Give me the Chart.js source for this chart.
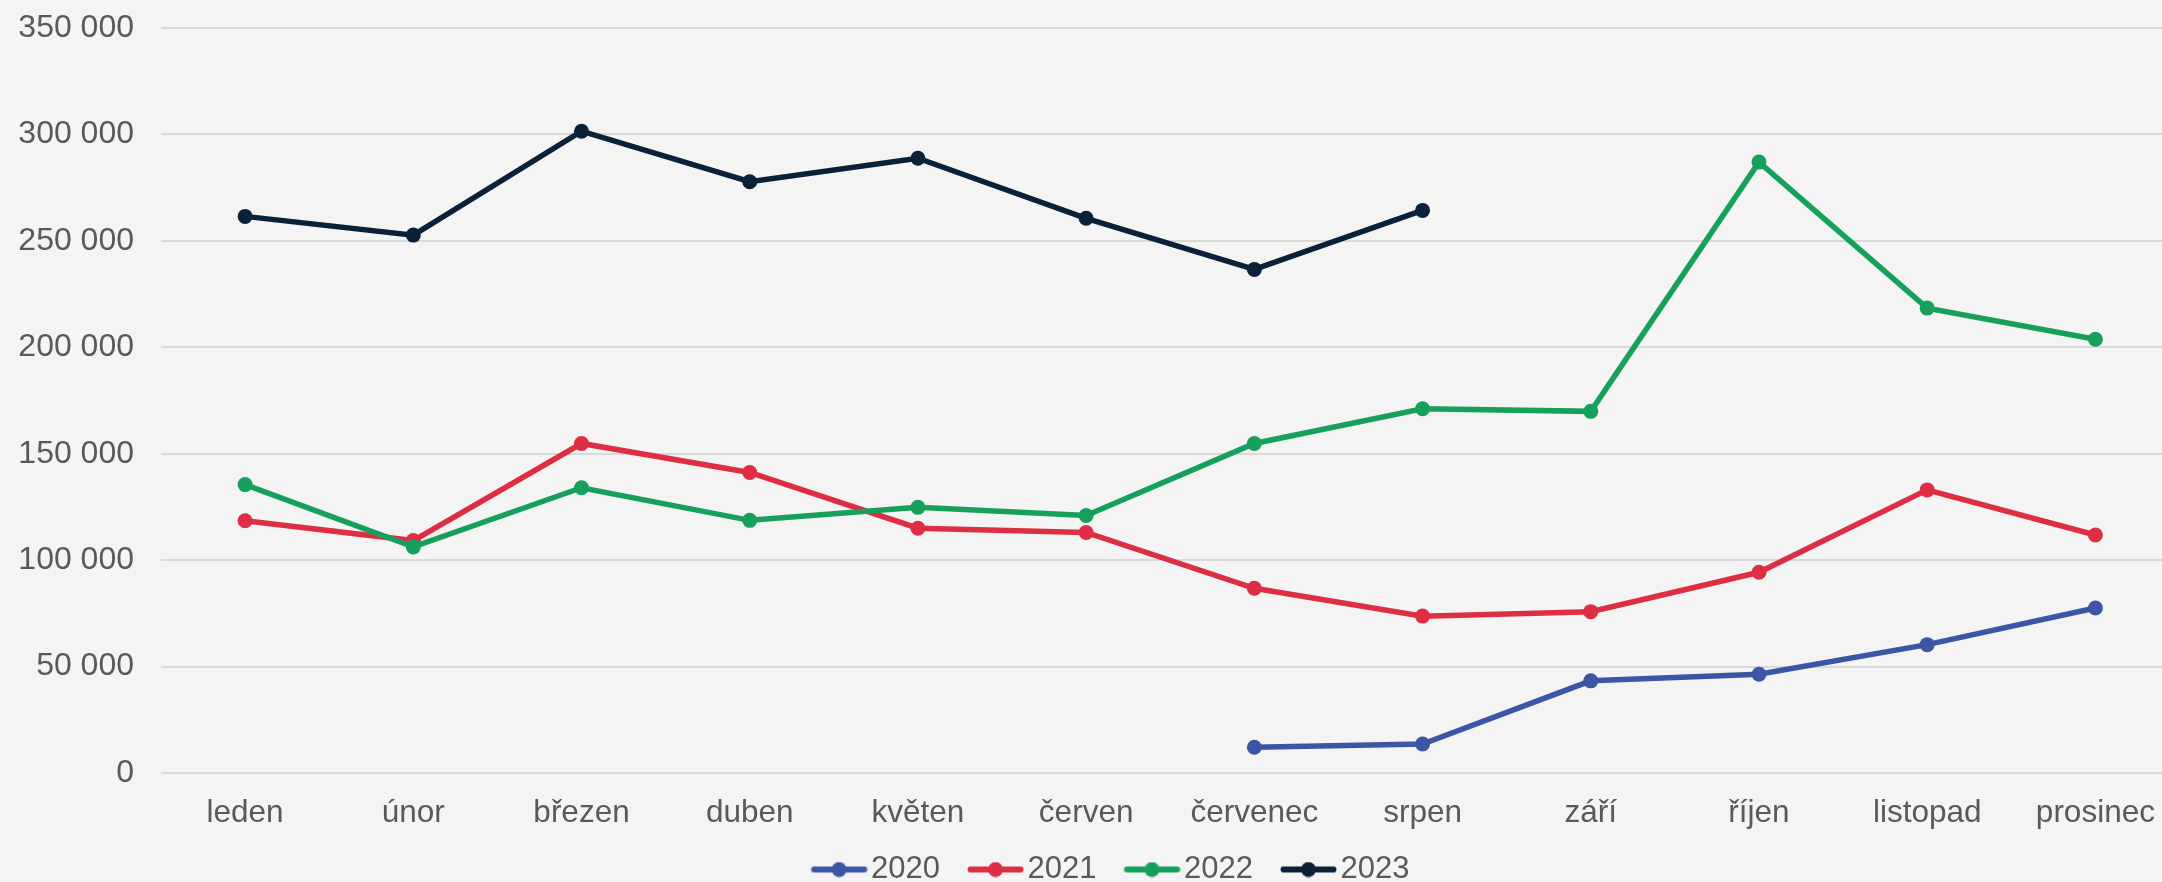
<!DOCTYPE html>
<html lang="cs">
<head>
<meta charset="utf-8">
<title>Měsíční vývoj 2020–2023</title>
<script src="https://cdn.jsdelivr.net/npm/chart.js@4.4.1/dist/chart.umd.min.js"></script>
<style>
  html, body { margin:0; padding:0; background:#f4f4f4; overflow:hidden; }
  #wrap { position:relative; width:2187px; height:895px; }
</style>
</head>
<body>
<div id="wrap"><canvas id="chart"></canvas></div>
<script>
const months = ["leden","únor","březen","duben","květen","červen","červenec","srpen","září","říjen","listopad","prosinec"];
const years = ["2020","2021","2022","2023"];

const y2020 = [null, null, null, null, null, null, 12100, 13600, 43300, 46400, 60300, 77500];
const y2021 = [118500, 109200, 154800, 141200, 115000, 113000, 86800, 73700, 75800, 94300, 133000, 111800];
const y2022 = [135500, 106200, 134000, 118700, 124800, 121000, 154800, 171100, 169900, 287000, 218400, 203800];
const y2023 = [261500, 252700, 301500, 277800, 288800, 260600, 236600, 264300, null, null, null, null];

const colors = ["#3a56a5", "#dd2e44", "#16a05c", "#0b2039"];
const yTicksMax = 350000;
const yTicksStep = 50000;

function fmt(v){
  return String(v).replace(/\B(?=(\d{3})+(?!\d))/g, " ");
}

// legend marker: short line with a dot in the middle
function legendMark(color){
  const c = document.createElement("canvas");
  c.width = 86; c.height = 16;
  const g = c.getContext("2d");
  g.strokeStyle = color; g.lineWidth = 6; g.lineCap = "round";
  g.beginPath(); g.moveTo(32.5, 8); g.lineTo(82.5, 8); g.stroke();
  g.fillStyle = color;
  g.beginPath(); g.arc(57.5, 8, 7.5, 0, Math.PI * 2); g.fill();
  return c;
}
const marks = colors.map(legendMark);

Chart.defaults.font.family = '"Liberation Sans", Arial, sans-serif';
Chart.defaults.color = "#595959";

const series = [y2020, y2021, y2022, y2023];
const datasets = series.map((data, i) => ({
  label: years[i],
  data,
  borderColor: colors[i],
  backgroundColor: colors[i],
  pointBackgroundColor: colors[i],
  borderWidth: 5.5,
  pointRadius: 7.5,
  pointBorderWidth: 0,
  pointHoverRadius: 7.5,
  tension: 0,
  order: 3 - i
}));

new Chart(document.getElementById("chart"), {
  type: "line",
  data: { labels: months, datasets },
  options: {
    responsive: true,
    maintainAspectRatio: false,
    animation: false,
    layout: { padding: { top: 28, left: 16, right: 0, bottom: 0 } },
    plugins: {
      tooltip: { enabled: false },
      legend: {
        position: "bottom",
        labels: {
          usePointStyle: true,
          pointStyleWidth: 62,
          padding: 10,
          color: "#595959",
          font: { size: 31 },
          sort: (a, b) => a.datasetIndex - b.datasetIndex,
          generateLabels(chart){
            const items = Chart.defaults.plugins.legend.labels.generateLabels(chart);
            items.forEach(it => { it.pointStyle = marks[it.datasetIndex]; });
            return items;
          }
        }
      }
    },
    scales: {
      x: {
        offset: true,
        grid: { display: false, drawTicks: false },
        border: { display: false },
        ticks: { padding: 21, autoSkip: false, maxRotation: 0, color: "#595959", font: { size: 31.5 } },
        afterFit(s){ s.height = 71; }
      },
      y: {
        min: 0,
        max: yTicksMax,
        grid: { color: "#d9d9d9", lineWidth: 2, drawTicks: false },
        border: { display: false },
        ticks: { stepSize: yTicksStep, padding: 27, color: "#595959", font: { size: 32 }, callback: v => fmt(v) },
        afterFit(s){ s.width = 145; s.paddingTop = 0; s.paddingBottom = 0; }
      }
    }
  }
});
</script>
</body>
</html>
